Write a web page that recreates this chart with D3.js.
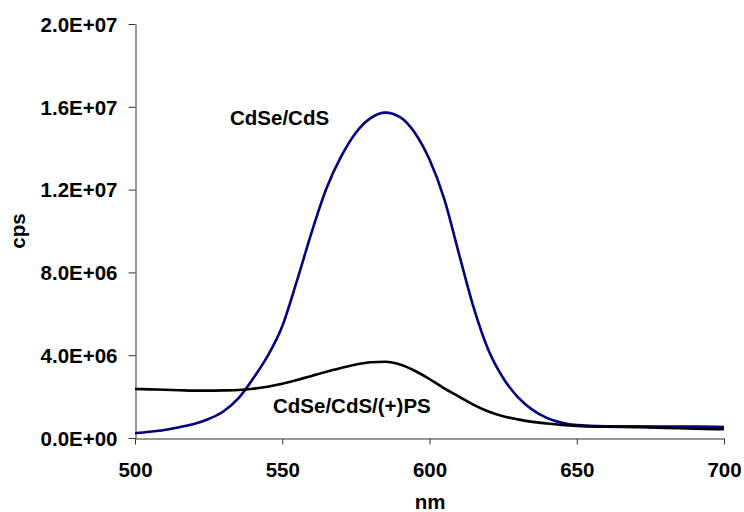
<!DOCTYPE html>
<html>
<head>
<meta charset="utf-8">
<script src="https://cdn.jsdelivr.net/npm/d3@7"></script>
<style>
  html, body { margin: 0; padding: 0; background: #fff; }
  svg { display: block; }
  text { font-family: "Liberation Sans", Arial, sans-serif; font-weight: bold; fill: #000; }
</style>
</head>
<body>
<svg id="chart" width="744" height="512"></svg>
<script>
// Emission spectra, wavelength in nm, intensity in cps
const wavelengths = [500, 505, 510, 515, 520, 525, 530, 535, 540, 545, 550, 555, 560, 565, 570, 575, 580, 585, 590, 595, 600, 605, 610, 615, 620, 625, 630, 635, 640, 645, 650, 660, 670, 680, 690, 700];

const cdseCds = [0.23, 0.30, 0.39, 0.52, 0.68, 0.92, 1.28, 1.90, 2.85, 3.95, 5.40, 7.60, 9.95, 12.05, 13.6, 14.75, 15.45, 15.72, 15.5, 14.75, 13.45, 11.55, 8.9, 6.3, 4.25, 2.9, 1.98, 1.36, 0.96, 0.73, 0.62, 0.57, 0.56, 0.55, 0.55, 0.53].map(v => v * 1e6);

const cdseCdsPs = [2.37, 2.35, 2.33, 2.31, 2.29, 2.29, 2.30, 2.32, 2.38, 2.48, 2.62, 2.80, 3.00, 3.20, 3.38, 3.55, 3.66, 3.68, 3.55, 3.25, 2.85, 2.40, 2.00, 1.60, 1.28, 1.05, 0.90, 0.78, 0.70, 0.63, 0.58, 0.54, 0.52, 0.49, 0.45, 0.42].map(v => v * 1e6);

const xTicks = [500, 550, 600, 650, 700];
const yTicks = [0, 4e6, 8e6, 12e6, 16e6, 20e6];

const seriesNames = ["CdSe/CdS", "CdSe/CdS/(+)PS"];
const seriesColors = ["#000080", "#000000"];

const svg = d3.select("#chart");
const fontSize = "20.5px";

const x = d3.scaleLinear().domain([500, 700]).range([135, 724]);
const y = d3.scaleLinear().domain([0, 2e7]).range([438, 24]);

// Excel-style scientific labels: 4.0E+06
const sci = v => {
  const [m, e] = v.toExponential(1).split("e");
  const sign = e[0] === "-" ? "-" : "+";
  const digits = e.replace(/[+-]/, "").padStart(2, "0");
  return `${m}E${sign}${digits}`;
};

const axisColor = "#333";

// y axis
const yAxis = svg.append("g")
  .attr("transform", "translate(135.5,0)")
  .call(d3.axisLeft(y).tickValues(yTicks).tickFormat(sci).tickSize(7).tickSizeOuter(0).tickPadding(11));
yAxis.selectAll("line, path").attr("stroke", axisColor);
yAxis.selectAll("text").style("font-size", fontSize).attr("dy", "0.36em");

// x axis
const xAxis = svg.append("g")
  .attr("transform", "translate(0,438.5)")
  .call(d3.axisBottom(x).tickValues(xTicks).tickFormat(d3.format("d")).tickSize(6).tickSizeOuter(0));
xAxis.selectAll("line, path").attr("stroke", axisColor);
xAxis.selectAll("text").style("font-size", fontSize).attr("y", 38).attr("dy", 0);

// axis titles
svg.append("text")
  .attr("x", 430).attr("y", 509)
  .attr("text-anchor", "middle")
  .style("font-size", fontSize)
  .text("nm");

svg.append("text")
  .attr("transform", "translate(25,231) rotate(-90)")
  .attr("text-anchor", "middle")
  .style("font-size", fontSize)
  .text("cps");

// spectra
const line = d3.line()
  .x(d => x(d[0]))
  .y(d => y(d[1]))
  .curve(d3.curveMonotoneX);

[cdseCds, cdseCdsPs].forEach((vals, i) => {
  svg.append("path")
    .datum(wavelengths.map((w, j) => [w, vals[j]]))
    .attr("fill", "none")
    .attr("stroke", seriesColors[i])
    .attr("stroke-width", 2.6)
    .attr("stroke-linejoin", "round")
    .attr("d", line);
});

// series labels
svg.append("text")
  .attr("x", 230).attr("y", 125)
  .style("font-size", fontSize)
  .text(seriesNames[0]);

svg.append("text")
  .attr("x", 273).attr("y", 413)
  .style("font-size", fontSize)
  .text(seriesNames[1]);
</script>
</body>
</html>
